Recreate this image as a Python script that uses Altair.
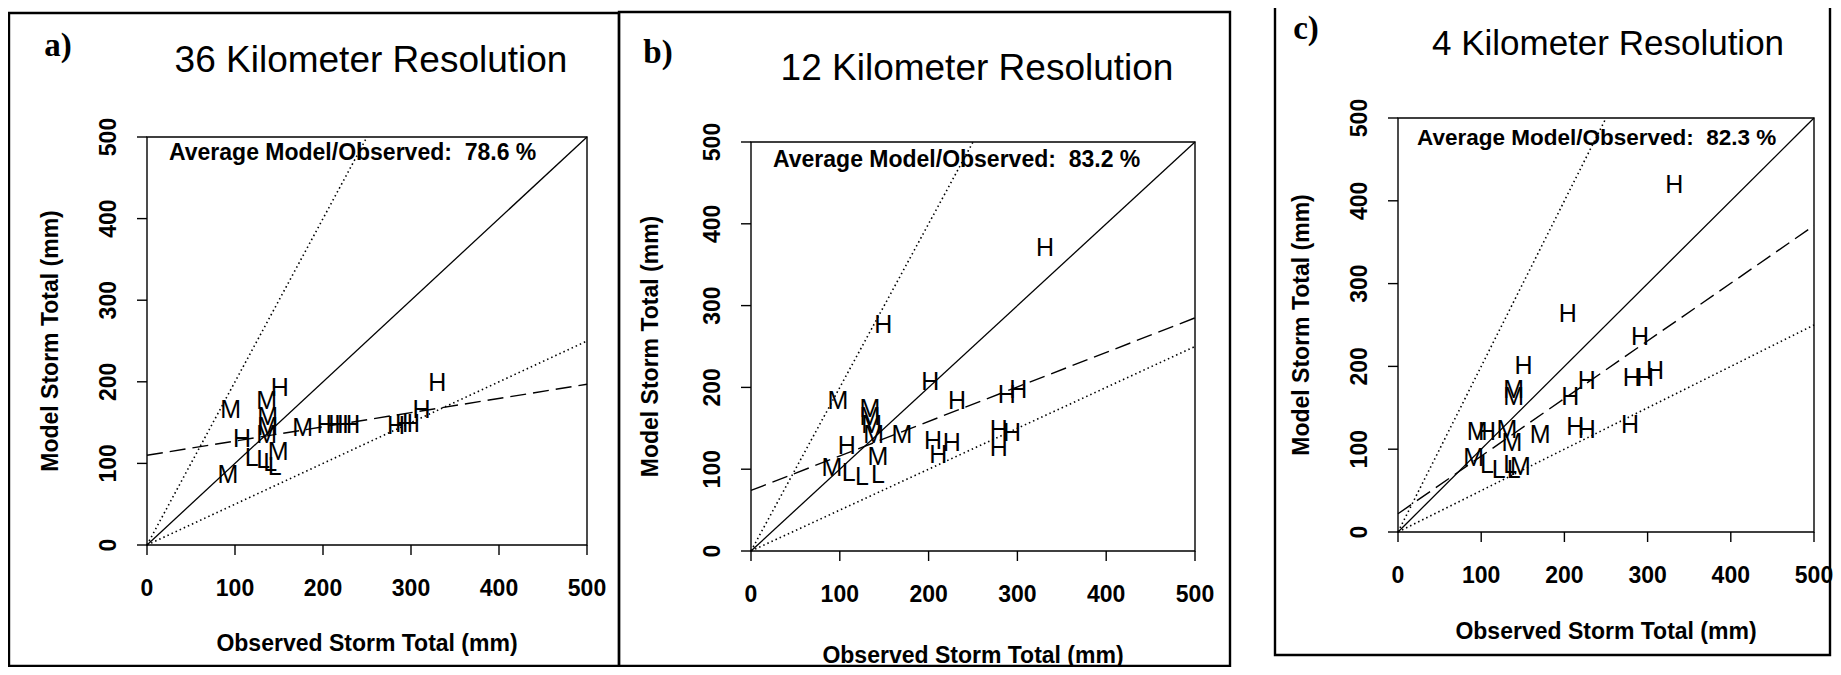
import altair as alt
import pandas as pd

W, H = 1825, 659
FONT = "Liberation Sans"
SERIF = "Liberation Serif"

ticks = [0, 100, 200, 300, 400, 500]

# reference lines (observed, model)
ref_obs = [0, 500]
ref_mod = [0, 500]
hi_obs = [0, 250]
hi_mod = [0, 500]
lo_obs = [0, 500]
lo_mod = [0, 250]

# Panel a: 36 km
obs_a = [95, 92, 108, 119, 132, 140, 145, 136, 137, 137, 136, 149, 151, 177, 203, 213, 223, 232, 283, 292, 300, 312, 330]
mod_a = [166, 86, 130, 107, 104, 100, 96, 176, 157, 145, 135, 114, 192, 143, 147, 147, 147, 147, 146, 148, 148, 166, 198]
cls_a = ["M", "M", "H", "L", "L", "L", "L", "M", "M", "M", "M", "M", "H", "M", "H", "H", "H", "H", "H", "H", "H", "H", "H"]
reg_a_obs = [0, 500]
reg_a_mod = [110, 197]

# Panel b: 12 km
obs_b = [149, 202, 232, 288, 301, 331, 98, 134, 134, 136, 138, 170, 108, 91, 143, 110, 125, 143, 205, 226, 211, 279, 279, 294]
mod_b = [276, 207, 183, 191, 197, 371, 183, 174, 164, 154, 142, 142, 128, 101, 115, 95, 91, 93, 134, 132, 117, 148, 126, 144]
cls_b = ["H", "H", "H", "H", "H", "H", "M", "M", "M", "M", "M", "M", "H", "M", "M", "L", "L", "L", "H", "H", "H", "H", "H", "H"]
reg_b_obs = [0, 500]
reg_b_mod = [74, 285]

# Panel c: 4 km
obs_c = [151, 139, 139, 207, 227, 291, 281, 297, 309, 213, 227, 279, 171, 95, 107, 131, 137, 91, 107, 121, 135, 139, 147, 204, 332]
mod_c = [200, 172, 163, 163, 182, 236, 186, 186, 194, 127, 123, 129, 117, 121, 121, 123, 107, 89, 81, 75, 81, 75, 79, 263, 419]
cls_c = ["H", "M", "M", "H", "H", "H", "H", "H", "H", "H", "H", "H", "M", "M", "H", "M", "M", "M", "L", "L", "L", "L", "M", "H", "H"]
reg_c_obs = [0, 500]
reg_c_mod = [22, 370]

letters = ["a)", "b)", "c)"]
titles = ["36 Kilometer Resolution", "12 Kilometer Resolution", "4 Kilometer Resolution"]
averages = ["Average Model/Observed: \u00a078.6 %", "Average Model/Observed: \u00a083.2 %",
            "Average Model/Observed: \u00a082.3 %"]
x_title = "Observed Storm Total (mm)"
y_title = "Model Storm Total (mm)"

one = alt.Data(values=[{}])


def txt(s, x, y, **kw):
    return alt.Chart(one).mark_text(text=s, color="black", **kw).encode(x=alt.value(x), y=alt.value(y))


def panel(obs, mod, cls, reg_obs, reg_mod, xr, yr, ytx, xty):
    sx = alt.Scale(domain=[0, 500], range=xr, nice=False, zero=False)
    sy = alt.Scale(domain=[0, 500], range=yr, nice=False, zero=False)
    x0, yb = xr[0], yr[0]

    def line(o, m, **kw):
        df = pd.DataFrame({"obs": o, "mod": m})
        return alt.Chart(df).mark_line(color="black", **kw).encode(
            x=alt.X("obs:Q", scale=sx, axis=None),
            y=alt.Y("mod:Q", scale=sy, axis=None))

    frame = alt.Chart(one).mark_rect(fillOpacity=0, stroke="black", strokeWidth=1.4).encode(
        x=alt.X(datum=0, type="quantitative", scale=sx, axis=None),
        x2=alt.X2(datum=500),
        y=alt.Y(datum=0, type="quantitative", scale=sy, axis=None),
        y2=alt.Y2(datum=500))
    solid = line(ref_obs, ref_mod, strokeWidth=1.3)
    hi = line(hi_obs, hi_mod, strokeWidth=1.6, strokeDash=[1.5, 3])
    lo = line(lo_obs, lo_mod, strokeWidth=1.6, strokeDash=[1.5, 3])
    reg = line(reg_obs, reg_mod, strokeWidth=1.4, strokeDash=[16, 7])
    pts = pd.DataFrame({"obs": obs, "mod": mod, "cls": cls})
    points = alt.Chart(pts).mark_text(font=FONT, fontSize=25, color="black").encode(
        x=alt.X("obs:Q", scale=sx, axis=None),
        y=alt.Y("mod:Q", scale=sy, axis=None),
        text="cls:N")

    tdf = pd.DataFrame({"t": ticks})
    xt = alt.Chart(tdf).mark_rule(color="black", strokeWidth=1.4).encode(
        x=alt.X("t:Q", scale=sx, axis=None), y=alt.value(yb), y2=alt.value(yb + 10))
    xl = alt.Chart(tdf).mark_text(font=FONT, fontSize=23, fontWeight="bold", color="black",
                                  baseline="middle").encode(
        x=alt.X("t:Q", scale=sx, axis=None), y=alt.value(yb + 44), text=alt.Text("t:Q", format="d"))
    yt = alt.Chart(tdf).mark_rule(color="black", strokeWidth=1.4).encode(
        y=alt.Y("t:Q", scale=sy, axis=None), x=alt.value(x0 - 10), x2=alt.value(x0))
    yl = alt.Chart(tdf).mark_text(font=FONT, fontSize=23, fontWeight="bold", color="black",
                                  baseline="middle", angle=270).encode(
        y=alt.Y("t:Q", scale=sy, axis=None), x=alt.value(x0 - 38), text=alt.Text("t:Q", format="d"))
    xtit = txt(x_title, (xr[0] + xr[1]) / 2, yb + xty, font=FONT, fontSize=23, fontWeight="bold",
               baseline="middle")
    ytit = txt(y_title, x0 + ytx, (yr[0] + yr[1]) / 2, font=FONT, fontSize=23, fontWeight="bold",
               baseline="middle", angle=270)
    return alt.layer(frame, solid, hi, lo, reg, points, xt, xl, yt, yl, xtit, ytit)


pa = panel(obs_a, mod_a, cls_a, reg_a_obs, reg_a_mod, [139, 579], [537, 129], -96, 99)
pb = panel(obs_b, mod_b, cls_b, reg_b_obs, reg_b_mod, [743, 1187], [543, 134], -100, 105)
pc = panel(obs_c, mod_c, cls_c, reg_c_obs, reg_c_mod, [1390, 1806], [524, 110], -96, 100)


def box(x0, x1, y0, y1):
    return alt.Chart(one).mark_rect(fillOpacity=0, stroke="black", strokeWidth=2.4).encode(
        x=alt.value(x0), x2=alt.value(x1), y=alt.value(y0), y2=alt.value(y1))


deco = [
    box(1, 611, 5, 658), box(611, 1222, 4, 658), box(1267, 1822, -10, 647),
    txt(letters[0], 50, 38, font=SERIF, fontSize=33, fontWeight="bold"),
    txt(letters[1], 650, 45, font=SERIF, fontSize=33, fontWeight="bold"),
    txt(letters[2], 1298, 21, font=SERIF, fontSize=33, fontWeight="bold"),
    txt(titles[0], 363, 53, font=FONT, fontSize=37),
    txt(titles[1], 969, 61, font=FONT, fontSize=37),
    txt(titles[2], 1600, 36, font=FONT, fontSize=35),
    txt(averages[0], 161, 145, font=FONT, fontSize=23, fontWeight="bold", align="left"),
    txt(averages[1], 765, 152, font=FONT, fontSize=23, fontWeight="bold", align="left"),
    txt(averages[2], 1409, 130, font=FONT, fontSize=22.5, fontWeight="bold", align="left"),
]

chart = alt.layer(pa, pb, pc, *deco).resolve_scale(x="independent", y="independent").properties(
    width=W, height=H, autosize=alt.AutoSizeParams(type="none"), padding=0,
    background="white"
).configure_view(stroke="transparent")

chart.save("out.html", embed_options={"renderer": "svg", "actions": False})
